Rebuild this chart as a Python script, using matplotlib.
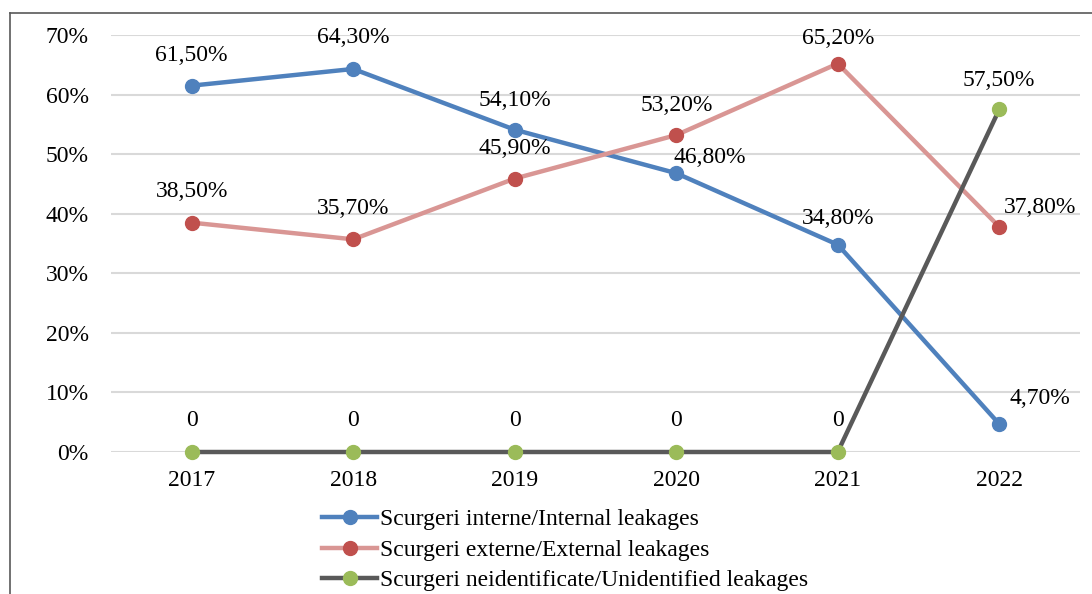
import matplotlib
matplotlib.use("Agg")
import matplotlib.pyplot as plt
from matplotlib.lines import Line2D

years = ["2017", "2018", "2019", "2020", "2021", "2022"]
internal = [61.5, 64.3, 54.1, 46.8, 34.8, 4.7]
external = [38.5, 35.7, 45.9, 53.2, 65.2, 37.8]
unidentified = [0, 0, 0, 0, 0, 57.5]

series_names = [
    "Scurgeri interne/Internal leakages",
    "Scurgeri externe/External leakages",
    "Scurgeri neidentificate/Unidentified leakages",
]

# label offsets in pixels (dx, dy) per point
off_internal = [(0, 30), (0, 31), (0, 29), (34, 16), (0, 26), (41, 26)]
off_external = [(0, 31), (0, 31), (0, 30), (0, 30), (0, 25), (41, 19)]
off_unident = [(0, 31), (0, 31), (0, 31), (0, 31), (0, 31), (0, 29)]

plt.rcParams["font.family"] = ["Liberation Serif", "DejaVu Serif"]
FS = 17


def fmt(v):
    if v == 0:
        return "0"
    return f"{v:.2f}".replace(".", ",") + "%"


fig = plt.figure(figsize=(10.92, 5.94), dpi=100)
ax = fig.add_axes([111 / 1092, 1 - 452 / 594, (1080 - 111) / 1092, (452 - 35) / 594])

x = list(range(len(years)))
styles = [
    (internal, "#4F81BD", "#4F81BD", off_internal),
    (external, "#D99694", "#C0504D", off_external),
    (unidentified, "#595959", "#9BBB59", off_unident),
]
handles = []
for (vals, lc, mc, offs), name in zip(styles, series_names):
    ax.plot(x, vals, color=lc, lw=3.2, marker="o", markersize=10,
            markerfacecolor=mc, markeredgecolor=mc, solid_capstyle="round",
            zorder=3, clip_on=False)
    handles.append(Line2D([], [], color=lc, lw=3.2, marker="o", markersize=10,
                          markerfacecolor=mc, markeredgecolor=mc))
    for xi, v, (dx, dy) in zip(x, vals, offs):
        ax.annotate(fmt(v), (xi, v), xytext=(dx, dy), textcoords="offset pixels",
                    ha="center", va="center", fontsize=FS, color="black", zorder=5)

ax.set_xlim(-0.5, len(years) - 0.5)
ax.set_ylim(0, 70)
ax.set_yticks(range(0, 71, 10))
ax.set_yticklabels([f"{t}%" for t in range(0, 71, 10)])
ax.set_xticks(x)
ax.set_xticklabels(years)
ax.tick_params(axis="both", length=0, labelsize=FS)
ax.tick_params(axis="y", pad=16)
ax.tick_params(axis="x", pad=13)
ax.grid(axis="y", color="#D9D9D9", lw=1.5)
ax.set_axisbelow(True)
for s in ax.spines.values():
    s.set_visible(False)

fig.legend(handles, series_names, loc="center left",
           bbox_to_anchor=(322 / 1092, 1 - 550 / 594), frameon=False,
           fontsize=FS, handlelength=2.35, handletextpad=0.1, labelspacing=0.38,
           borderpad=0, borderaxespad=0)

# outer chart border (clipped at right and bottom)
fig.add_artist(Line2D([10 / 1092, 10 / 1092], [0, 1 - 13 / 594],
                      transform=fig.transFigure, color="#595959", lw=1.2))
fig.add_artist(Line2D([10 / 1092, 1], [1 - 13 / 594, 1 - 13 / 594],
                      transform=fig.transFigure, color="#595959", lw=1.2))

fig.savefig("out.png", dpi=100)
